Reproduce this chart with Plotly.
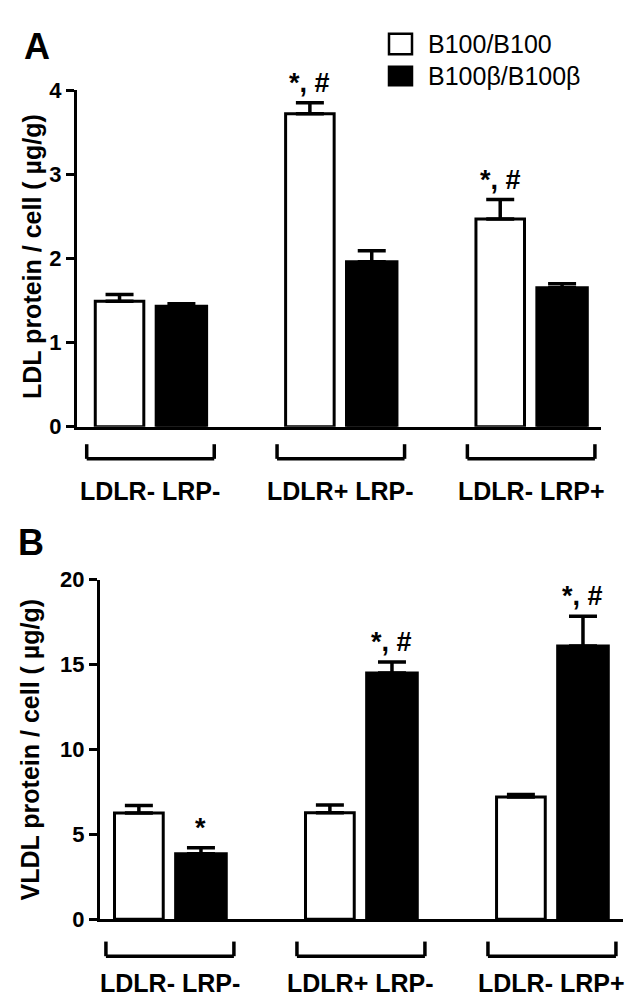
import plotly.graph_objects as go

# data
categories = ["LDLR- LRP-", "LDLR+ LRP-", "LDLR- LRP+"]

ldl_b100 = [1.49, 3.72, 2.47]
ldl_b100_err = [0.08, 0.13, 0.23]
ldl_beta = [1.43, 1.96, 1.65]
ldl_beta_err = [0.03, 0.13, 0.05]

vldl_b100 = [6.25, 6.27, 7.20]
vldl_b100_err = [0.45, 0.45, 0.15]
vldl_beta = [3.85, 14.5, 16.1]
vldl_beta_err = [0.35, 0.65, 1.75]

ldl_b100_sig = ["", "*, #", "*, #"]
ldl_beta_sig = ["", "", ""]
vldl_b100_sig = ["", "", ""]
vldl_beta_sig = ["*", "*, #", "*, #"]

series_names = ["B100/B100", "B100\u03b2/B100\u03b2"]

W, H = 642, 1008
FONT = "Liberation Sans, Arial, sans-serif"


def px_x(p):
    return p / W


def px_y(p):
    return (H - p) / H


fig = go.Figure()


def add_panel(xa, ya, white, white_err, black, black_err, white_sig, black_sig):
    for vals, errs, color, off, wid in [
        (white, white_err, "white", -0.29, 0.255),
        (black, black_err, "black", 0.03, 0.265),
    ]:
        fig.add_trace(go.Bar(
            x=categories, y=vals, xaxis=xa, yaxis=ya,
            offset=off, width=wid,
            marker=dict(color=color, line=dict(color="black", width=3)),
            error_y=dict(type="data", symmetric=False, array=errs,
                         arrayminus=[0] * len(errs), color="black",
                         thickness=3.5, width=14),
            showlegend=False, cliponaxis=False,
        ))
    # significance marks
    for vals, errs, sigs, off, wid in [
        (white, white_err, white_sig, -0.29, 0.255),
        (black, black_err, black_sig, 0.03, 0.265),
    ]:
        for i, s in enumerate(sigs):
            if s:
                fig.add_annotation(
                    x=i + off + wid / 2, y=vals[i] + errs[i], xref=xa, yref=ya,
                    text=s, showarrow=False, yanchor="bottom", yshift=3,
                    font=dict(family=FONT, size=27, color="black", weight="bold"))


add_panel("x", "y", ldl_b100, ldl_b100_err, ldl_beta, ldl_beta_err,
          ldl_b100_sig, ldl_beta_sig)
add_panel("x2", "y2", vldl_b100, vldl_b100_err, vldl_beta, vldl_beta_err,
          vldl_b100_sig, vldl_beta_sig)

axis_common = dict(showline=True, linewidth=3, linecolor="black",
                   showgrid=False, zeroline=False)
tickfont = dict(family=FONT, size=22, color="black", weight="bold")

fig.update_layout(
    width=W, height=H,
    margin=dict(l=0, r=0, t=0, b=0),
    paper_bgcolor="white", plot_bgcolor="white",
    showlegend=False,
    xaxis=dict(domain=[px_x(69), px_x(593)], range=[-0.386, 2.367],
               type="category", showticklabels=False, ticks="",
               anchor="y", **axis_common),
    yaxis=dict(domain=[px_y(417), px_y(72)], range=[0, 4],
               tickvals=[0, 1, 2, 3, 4], ticks="outside", ticklen=8,
               tickwidth=3, tickcolor="black", tickfont=tickfont,
               anchor="x", **axis_common),
    xaxis2=dict(domain=[px_x(92), px_x(615)], range=[-0.366, 2.372],
                type="category", showticklabels=False, ticks="",
                anchor="y2", **axis_common),
    yaxis2=dict(domain=[px_y(922), px_y(574)], range=[0, 20],
                tickvals=[0, 5, 10, 15, 20], ticks="outside", ticklen=8,
                tickwidth=3, tickcolor="black", tickfont=tickfont,
                anchor="x2", **axis_common),
)

# brackets + category labels under each group
for xa, top, bottom, label_y in [("x", 435, 450, 483), ("x2", 945, 960, 987)]:
    for i, cat in enumerate(categories):
        x0, x1 = i - 0.335, i + 0.335
        line = dict(color="black", width=3.5)
        fig.add_shape(type="line", xref=xa, yref="paper", x0=x0, x1=x1,
                      y0=px_y(bottom), y1=px_y(bottom), line=line)
        fig.add_shape(type="line", xref=xa, yref="paper", x0=x0, x1=x0,
                      y0=px_y(bottom), y1=px_y(top), line=line)
        fig.add_shape(type="line", xref=xa, yref="paper", x0=x1, x1=x1,
                      y0=px_y(bottom), y1=px_y(top), line=line)
        fig.add_annotation(x=i, y=px_y(label_y), xref=xa, yref="paper",
                           text=cat, showarrow=False, yanchor="middle",
                           font=dict(family=FONT, size=25, color="black",
                                     weight="bold"))

# axis titles
for text, cx, cy in [("LDL protein / cell ( \u00b5g/g)", 24, 243),
                     ("VLDL protein / cell ( \u00b5g/g)", 22, 749)]:
    fig.add_annotation(x=px_x(cx), y=px_y(cy), xref="paper", yref="paper",
                       text=text, textangle=-90, showarrow=False,
                       xanchor="center", yanchor="middle",
                       font=dict(family=FONT, size=25, color="black",
                                 weight="bold"))

# panel letters
for text, cx, cy in [("A", 29, 27), ("B", 23, 536)]:
    fig.add_annotation(x=px_x(cx), y=px_y(cy), xref="paper", yref="paper",
                       text=text, showarrow=False, xanchor="center",
                       yanchor="middle",
                       font=dict(family=FONT, size=36, color="black",
                                 weight="bold"))

# legend
for name, fill, y0, y1 in [(series_names[0], "white", 14, 35),
                           (series_names[1], "black", 48, 67)]:
    fig.add_shape(type="rect", xref="paper", yref="paper",
                  x0=px_x(381), x1=px_x(404), y0=px_y(y1), y1=px_y(y0),
                  fillcolor=fill, line=dict(color="black", width=2.5))
    fig.add_annotation(x=px_x(418), y=px_y((y0 + y1) / 2), xref="paper",
                       yref="paper", text=name, showarrow=False,
                       xanchor="left", yanchor="middle",
                       font=dict(family=FONT, size=25, color="black"))

fig.write_html("out.html")
